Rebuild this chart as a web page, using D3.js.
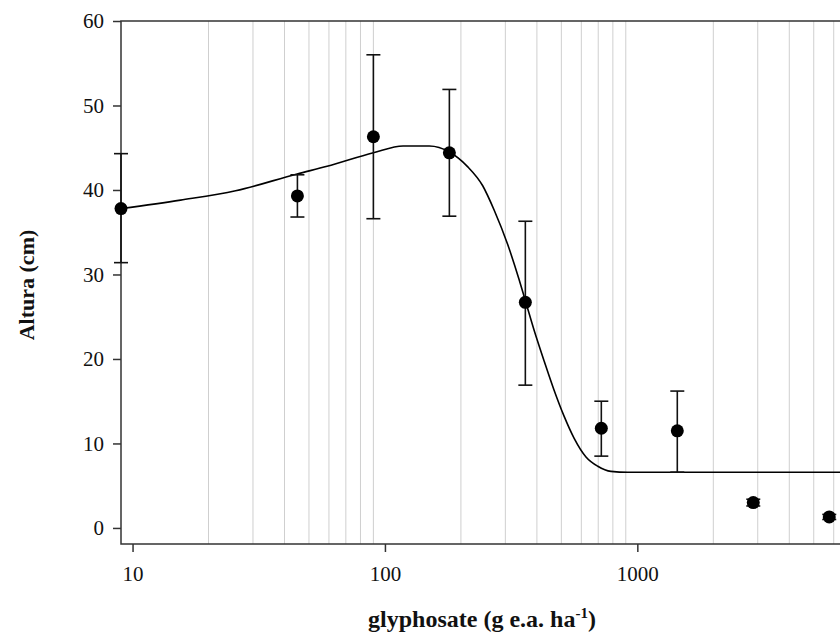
<!DOCTYPE html>
<html>
<head>
<meta charset="utf-8">
<script src="https://cdn.jsdelivr.net/npm/d3@7/dist/d3.min.js"></script>
<style>
  body { margin: 0; background: #fff; }
  svg { display: block; }
  text { font-family: "Liberation Serif", "Times New Roman", serif; fill: #111; }
</style>
</head>
<body>
<svg width="840" height="637"></svg>
<script>
// observed means (dose 0 is drawn at the left edge, 9)
var doses = [9, 45, 90, 180, 360, 720, 1440, 2880, 5760];
var means = [37.8, 39.3, 46.3, 44.4, 26.7, 11.8, 11.5, 3.0, 1.3];
var lower = [31.4, 36.8, 36.6, 36.9, 16.9, 8.5, 6.6, 2.6, 1.0];
var upper = [44.3, 41.8, 56.0, 51.9, 36.3, 15.0, 16.2, 3.4, 1.6];

// fitted curve
var fitDose = [9, 15.5, 25.6, 44.9, 59, 90, 118, 150, 180, 212, 244, 271, 306, 340, 360, 390, 428, 468, 513, 562, 626, 697, 786, 917, 10000];
var fitHeight = [37.8, 38.8, 39.9, 41.9, 42.8, 44.4, 45.2, 45.2, 44.5, 42.8, 40.5, 37.6, 33.6, 29.4, 26.9, 23.4, 19.7, 16.3, 13.2, 10.6, 8.4, 7.3, 6.7, 6.6, 6.6];

var xTicks = [10, 100, 1000];
var yTicks = [0, 10, 20, 30, 40, 50, 60];
var gridDoses = [];
[10, 100, 1000].forEach(function(d){
    for (var k = 2; k <= 9; k++) gridDoses.push(d * k);
});

function draw(){
    var svg = d3.select("svg");
    var mLeft = 121, mRight = 845, mTop = 21, mBottom = 544;

    var x = d3.scaleLog().domain([9, 6650]).range([mLeft, mRight]);
    var y = d3.scaleLinear().domain([-1.9, 60]).range([mBottom, mTop]);

    // grid
    svg.append("g")
        .selectAll("line")
        .data(gridDoses.filter(function(d){ return d > 9 && d < 6650; }))
        .enter()
        .append("line")
        .attr("x1", d => x(d)).attr("x2", d => x(d))
        .attr("y1", mTop).attr("y2", mBottom)
        .attr("stroke", "#cfcfcf")
        .attr("stroke-width", 1);

    // box
    svg.append("path")
        .attr("d", "M" + mRight + "," + mTop + "H" + mLeft + "V" + mBottom + "H" + mRight)
        .attr("fill", "none")
        .attr("stroke", "#333")
        .attr("stroke-width", 1.5);

    // axes
    var xAxis = svg.append("g")
        .attr("transform", "translate(0," + mBottom + ")")
        .call(d3.axisBottom(x).tickValues(xTicks).tickFormat(d3.format("d")).tickSize(8).tickPadding(14));
    var yAxis = svg.append("g")
        .attr("transform", "translate(" + mLeft + ",0)")
        .call(d3.axisLeft(y).tickValues(yTicks).tickSize(8).tickPadding(9));
    [xAxis, yAxis].forEach(function(a){
        a.select(".domain").remove();
        a.selectAll("line").attr("stroke", "#333").attr("stroke-width", 1.5);
        a.selectAll("text").attr("font-size", 21).attr("fill", "#111")
            .style("font-family", '"Liberation Serif", serif');
    });

    // fitted line
    var line = d3.line()
        .x((d, i) => x(fitDose[i]))
        .y(d => y(d))
        .curve(d3.curveMonotoneX);
    svg.append("path")
        .datum(fitHeight)
        .attr("d", line)
        .attr("fill", "none")
        .attr("stroke", "#000")
        .attr("stroke-width", 1.6);

    // error bars
    var eb = svg.append("g").selectAll("g")
        .data(doses)
        .enter()
        .append("g")
        .attr("stroke", "#111")
        .attr("stroke-width", 1.6);
    eb.append("line")
        .attr("x1", d => x(d)).attr("x2", d => x(d))
        .attr("y1", (d, i) => y(lower[i])).attr("y2", (d, i) => y(upper[i]));
    eb.append("line")
        .attr("x1", d => x(d) - 7).attr("x2", d => x(d) + 7)
        .attr("y1", (d, i) => y(lower[i])).attr("y2", (d, i) => y(lower[i]));
    eb.append("line")
        .attr("x1", d => x(d) - 7).attr("x2", d => x(d) + 7)
        .attr("y1", (d, i) => y(upper[i])).attr("y2", (d, i) => y(upper[i]));

    // points
    svg.append("g").selectAll("circle")
        .data(doses)
        .enter()
        .append("circle")
        .attr("cx", d => x(d))
        .attr("cy", (d, i) => y(means[i]))
        .attr("r", 6.5)
        .attr("fill", "#000");

    // axis titles
    var xt = svg.append("text")
        .attr("x", 482).attr("y", 627)
        .attr("text-anchor", "middle")
        .attr("font-size", 24).attr("font-weight", "bold");
    xt.append("tspan").text("glyphosate (g e.a. ha");
    xt.append("tspan").attr("dy", -9).attr("font-size", 15).text("-1");
    xt.append("tspan").attr("dy", 9).text(")");

    svg.append("text")
        .attr("transform", "translate(34,285) rotate(-90)")
        .attr("text-anchor", "middle")
        .attr("font-size", 22).attr("font-weight", "bold")
        .text("Altura (cm)");
}
draw();
</script>
</body>
</html>
